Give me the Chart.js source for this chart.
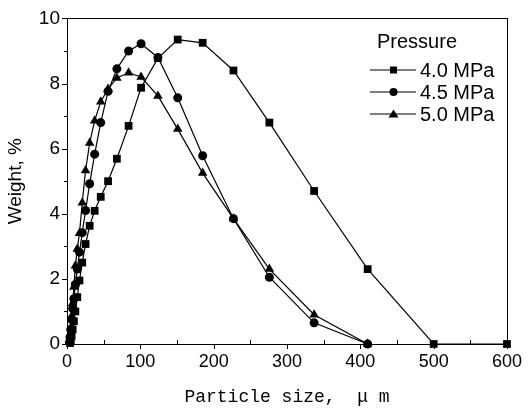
<!DOCTYPE html>
<html>
<head>
<meta charset="utf-8">
<script src="https://cdn.jsdelivr.net/npm/chart.js@4.4.1/dist/chart.umd.min.js"></script>
<style>
  html, body { margin: 0; padding: 0; background: #fff; }
</style>
</head>
<body>
<canvas id="psd" width="529" height="412"></canvas>
<script>
// particle size classes (um)
const sizes = [3.4, 4.2, 5.2, 6.3, 7.7, 9.4, 11.4, 14, 17, 20.8, 25.3, 30.9, 37.7, 46, 56, 68, 84, 101, 124, 151, 185, 227, 276, 337, 410, 500, 600];
// weight % per pressure
const weight40 = [null, 0.03, 0.1, 0.25, 0.45, 0.7, 1.0, 1.44, 1.95, 2.5, 3.07, 3.63, 4.09, 4.52, 5.0, 5.69, 6.7, 7.87, 8.78, 9.35, 9.25, 8.4, 6.8, 4.7, 2.3, 0, 0];
const weight45 = [0.05, 0.22, 0.45, 0.75, 1.09, 1.39, 1.83, 2.3, 2.82, 3.42, 4.1, 4.92, 5.83, 6.8, 7.76, 8.45, 9.0, 9.22, 8.8, 7.56, 5.78, 3.85, 2.05, 0.65, 0, null, null];
const weight50 = [0.08, 0.25, 0.5, 0.85, 1.25, 1.75, 2.4, 2.92, 3.4, 4.34, 5.33, 6.17, 6.86, 7.44, 7.83, 8.17, 8.33, 8.2, 7.62, 6.6, 5.25, 3.85, 2.3, 0.9, 0, null, null];

const seriesLabels = ['4.0 MPa', '4.5 MPa', '5.0 MPa'];
const legendTitle = 'Pressure';
const xTicks = [0, 100, 200, 300, 400, 500, 600];
const yTicks = [0, 2, 4, 6, 8, 10];

const toPoints = w => sizes.map((x, i) => ({x: x, y: w[i]})).filter(p => p.y !== null);

function series(label, w, style, r) {
    return {
        label: label,
        data: toPoints(w),
        showLine: true,
        borderColor: '#000',
        backgroundColor: '#000',
        borderWidth: 1.2,
        pointStyle: style,
        pointRadius: r,
        pointHoverRadius: r,
        pointBorderWidth: 0,
        clip: false
    };
}

// ticks and frame like the original plot
const frameTicks = {
    id: 'frameTicks',
    afterDraw(chart) {
        const {ctx, chartArea: a} = chart;
        const x = chart.scales.x, y = chart.scales.y;
        ctx.save();
        ctx.strokeStyle = '#000';
        ctx.lineWidth = 1;
        ctx.beginPath();
        for (let v = 0; v <= 600; v += 50) {
            const px = Math.round(x.getPixelForValue(v)) + 0.5;
            ctx.moveTo(px, a.bottom);
            ctx.lineTo(px, v % 100 === 0 ? a.bottom + 5 : a.bottom - 4);
        }
        for (let v = 0; v <= 10; v += 1) {
            const py = Math.round(y.getPixelForValue(v)) + 0.5;
            ctx.moveTo(a.left, py);
            ctx.lineTo(a.left - (v % 2 === 0 ? 5 : 3), py);
        }
        ctx.stroke();
        ctx.strokeRect(Math.round(a.left) + 0.5, Math.round(a.top) + 0.5,
            Math.round(a.right - a.left), Math.round(a.bottom - a.top));
        ctx.restore();
    }
};

// legend: line - marker - line, then label
const pressureLegend = {
    id: 'pressureLegend',
    afterDraw(chart) {
        const ctx = chart.ctx;
        ctx.save();
        ctx.fillStyle = '#000';
        ctx.strokeStyle = '#000';
        ctx.font = '20px "Liberation Sans", Arial, sans-serif';
        ctx.textAlign = 'left';
        ctx.textBaseline = 'middle';
        ctx.fillText(legendTitle, 377, 42);
        chart.data.datasets.forEach((ds, i) => {
            const ly = 70 + i * 22;
            ctx.lineWidth = 1.2;
            ctx.beginPath();
            ctx.moveTo(370, ly);
            ctx.lineTo(416, ly);
            ctx.stroke();
            ctx.beginPath();
            if (ds.pointStyle === 'rect') {
                ctx.rect(390, ly - 3.5, 7, 7);
            } else if (ds.pointStyle === 'circle') {
                ctx.arc(393.5, ly, 4, 0, Math.PI * 2);
            } else {
                ctx.moveTo(393.5, ly - 4.5);
                ctx.lineTo(398.5, ly + 3.5);
                ctx.lineTo(388.5, ly + 3.5);
                ctx.closePath();
            }
            ctx.fill();
            ctx.fillText(ds.label, 420, ly + 1);
        });
        ctx.restore();
    }
};

new Chart(document.getElementById('psd'), {
    type: 'scatter',
    data: {
        datasets: [
            series(seriesLabels[0], weight40, 'rect', 5.5),
            series(seriesLabels[1], weight45, 'circle', 4.5),
            series(seriesLabels[2], weight50, 'triangle', 5.5)
        ]
    },
    options: {
        responsive: false,
        animation: false,
        devicePixelRatio: 1,
        layout: {padding: {top: 16, right: 19, left: 0, bottom: 0}},
        plugins: {legend: {display: false}, tooltip: {enabled: false}},
        scales: {
            x: {
                type: 'linear',
                min: 0,
                max: 600,
                afterBuildTicks: s => { s.ticks = xTicks.map(v => ({value: v})); },
                afterFit: s => { s.height = 68; },
                grid: {display: false, drawTicks: false},
                border: {display: false},
                ticks: {color: '#000', padding: 7, maxRotation: 0,
                    font: {family: '"Liberation Sans", Arial, sans-serif', size: 18}},
                title: {display: true, text: 'Particle size,  \u03bc m', color: '#000',
                    font: {family: '"Liberation Mono", monospace', size: 18},
                    padding: {top: 0, bottom: 4}}
            },
            y: {
                min: 0,
                max: 10,
                afterBuildTicks: s => { s.ticks = yTicks.map(v => ({value: v})); },
                afterFit: s => { s.width = 67; },
                grid: {display: false, drawTicks: false},
                border: {display: false},
                ticks: {color: '#000', padding: 7,
                    font: {family: '"Liberation Sans", Arial, sans-serif', size: 19}},
                title: {display: true, text: 'Weight, %', color: '#000',
                    font: {family: '"Liberation Sans", Arial, sans-serif', size: 19},
                    padding: {top: 4, bottom: 0}}
            }
        }
    },
    plugins: [frameTicks, pressureLegend]
});
</script>
</body>
</html>
